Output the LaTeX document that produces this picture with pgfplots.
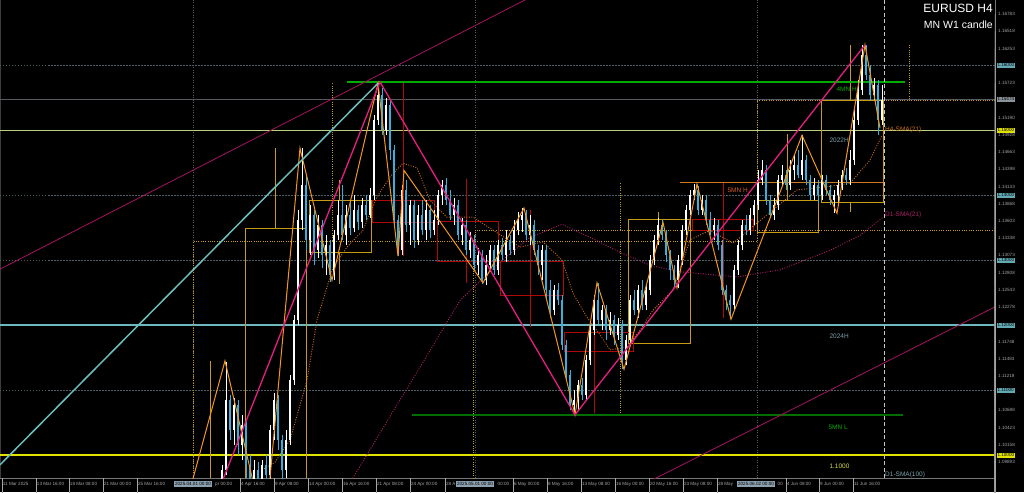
\documentclass[border=0pt]{standalone}
\usepackage{fontspec}
\setmainfont{Liberation Sans}
\usepackage{pgfplots}
\usepackage{pgfplotstable}
\pgfplotsset{compat=1.18}
\definecolor{axisgray}{RGB}{120,120,120}
\definecolor{tickgray}{RGB}{165,165,165}
\definecolor{gridc}{RGB}{75,95,100}
\definecolor{graylvl}{RGB}{85,88,92}
\definecolor{lvlf}{RGB}{185,210,130}
\definecolor{lvlt}{RGB}{110,185,190}
\definecolor{yel}{RGB}{225,225,0}
\definecolor{sepc}{RGB}{90,90,90}
\definecolor{wgold}{RGB}{200,155,20}
\definecolor{wred}{RGB}{175,10,10}
\definecolor{grn}{RGB}{0,170,0}
\definecolor{dgrn}{RGB}{0,110,0}
\definecolor{orz}{RGB}{245,150,30}
\definecolor{mnh}{RGB}{210,120,30}
\definecolor{pinkz}{RGB}{230,30,130}
\definecolor{magt}{RGB}{165,20,95}
\definecolor{cyl}{RGB}{110,190,190}
\definecolor{smao}{RGB}{200,110,20}
\definecolor{smam}{RGB}{170,30,100}
\definecolor{boxteal}{RGB}{100,170,180}
\definecolor{boxgray}{RGB}{140,148,155}
\definecolor{sepbox}{RGB}{140,160,175}
\definecolor{lblteal}{RGB}{120,160,170}

\pgfplotstableread{
x o h l c
222 1.0946 1.0985 1.0931 1.0977
226 1.0977 1.1143 1.0969 1.1085
230 1.1085 1.1092 1.1023 1.1038
234 1.1038 1.1088 1.1015 1.1077
238 1.1077 1.1085 1.1000 1.1015
242 1.1015 1.1062 1.0992 1.1046
246 1.1046 1.1054 1.0965 1.0985
250 1.0985 1.1000 1.0938 1.0962
254 1.0962 1.0992 1.0938 1.0977
258 1.0977 1.0989 1.0938 1.0954
262 1.0954 1.0992 1.0946 1.0985
266 1.0985 1.1000 1.0954 1.0969
270 1.0969 1.1046 1.0962 1.1038
274 1.1038 1.1095 1.1023 1.1085
278 1.1085 1.1092 1.1008 1.1023
282 1.1023 1.1031 1.0962 1.0977
286 1.0977 1.1038 1.0965 1.1023
290 1.1023 1.1123 1.1015 1.1115
294 1.1115 1.1215 1.1108 1.1208
298 1.1208 1.1377 1.1200 1.1362
302 1.1362 1.1472 1.1346 1.1415
306 1.1415 1.1431 1.1315 1.1331
310 1.1331 1.1385 1.1308 1.1369
314 1.1369 1.1377 1.1292 1.1315
318 1.1315 1.1369 1.1303 1.1354
322 1.1354 1.1362 1.1288 1.1308
326 1.1308 1.1338 1.1277 1.1323
330 1.1323 1.1331 1.1266 1.1277
334 1.1277 1.1346 1.1269 1.1338
338 1.1338 1.1392 1.1331 1.1369
342 1.1369 1.1415 1.1331 1.1338
346 1.1338 1.1385 1.1323 1.1369
350 1.1369 1.1392 1.1338 1.1349
354 1.1349 1.1400 1.1343 1.1377
358 1.1377 1.1385 1.1346 1.1358
362 1.1358 1.1395 1.1349 1.1385
366 1.1385 1.1400 1.1362 1.1369
370 1.1369 1.1411 1.1365 1.1400
374 1.1400 1.1523 1.1392 1.1515
378 1.1515 1.1572 1.1508 1.1554
382 1.1554 1.1565 1.1492 1.1500
386 1.1500 1.1549 1.1492 1.1538
390 1.1538 1.1546 1.1454 1.1469
394 1.1469 1.1477 1.1349 1.1362
398 1.1362 1.1369 1.1306 1.1315
402 1.1315 1.1415 1.1308 1.1408
406 1.1408 1.1423 1.1343 1.1354
410 1.1354 1.1392 1.1323 1.1385
414 1.1385 1.1392 1.1318 1.1331
418 1.1331 1.1385 1.1323 1.1369
422 1.1369 1.1392 1.1338 1.1346
426 1.1346 1.1392 1.1331 1.1377
430 1.1377 1.1385 1.1334 1.1346
434 1.1346 1.1377 1.1338 1.1362
438 1.1362 1.1408 1.1354 1.1400
442 1.1400 1.1423 1.1385 1.1415
446 1.1415 1.1426 1.1385 1.1392
450 1.1392 1.1408 1.1362 1.1369
454 1.1369 1.1395 1.1354 1.1385
458 1.1385 1.1392 1.1331 1.1338
462 1.1338 1.1365 1.1323 1.1354
466 1.1354 1.1362 1.1308 1.1315
470 1.1315 1.1343 1.1303 1.1331
474 1.1331 1.1338 1.1285 1.1292
478 1.1292 1.1318 1.1277 1.1308
482 1.1308 1.1315 1.1263 1.1269
486 1.1269 1.1308 1.1262 1.1292
490 1.1292 1.1323 1.1282 1.1315
494 1.1315 1.1323 1.1277 1.1285
498 1.1285 1.1331 1.1277 1.1323
502 1.1323 1.1334 1.1300 1.1308
506 1.1308 1.1346 1.1297 1.1331
510 1.1331 1.1338 1.1308 1.1315
514 1.1315 1.1362 1.1308 1.1346
518 1.1346 1.1374 1.1338 1.1362
522 1.1362 1.1380 1.1343 1.1369
526 1.1369 1.1377 1.1331 1.1338
530 1.1338 1.1369 1.1323 1.1354
534 1.1354 1.1362 1.1308 1.1315
538 1.1315 1.1323 1.1277 1.1292
542 1.1292 1.1323 1.1269 1.1315
546 1.1315 1.1323 1.1238 1.1254
550 1.1254 1.1269 1.1211 1.1223
554 1.1223 1.1262 1.1215 1.1254
558 1.1254 1.1265 1.1231 1.1238
562 1.1238 1.1246 1.1162 1.1169
566 1.1169 1.1177 1.1115 1.1123
570 1.1123 1.1131 1.1069 1.1077
574 1.1077 1.1100 1.1062 1.1085
578 1.1085 1.1115 1.1069 1.1108
582 1.1108 1.1118 1.1085 1.1092
586 1.1092 1.1154 1.1085 1.1146
590 1.1146 1.1200 1.1138 1.1192
594 1.1192 1.1246 1.1185 1.1238
598 1.1238 1.1265 1.1200 1.1208
602 1.1208 1.1231 1.1192 1.1223
606 1.1223 1.1231 1.1177 1.1192
610 1.1192 1.1220 1.1185 1.1208
614 1.1208 1.1215 1.1169 1.1185
618 1.1185 1.1211 1.1177 1.1200
622 1.1200 1.1208 1.1132 1.1146
626 1.1146 1.1185 1.1138 1.1177
630 1.1177 1.1246 1.1169 1.1238
634 1.1238 1.1254 1.1215 1.1223
638 1.1223 1.1262 1.1211 1.1254
642 1.1254 1.1269 1.1223 1.1231
646 1.1231 1.1262 1.1223 1.1254
650 1.1254 1.1308 1.1246 1.1300
654 1.1300 1.1338 1.1292 1.1331
658 1.1331 1.1365 1.1323 1.1354
662 1.1354 1.1362 1.1331 1.1338
666 1.1338 1.1346 1.1297 1.1308
670 1.1308 1.1315 1.1269 1.1285
674 1.1285 1.1292 1.1257 1.1269
678 1.1269 1.1308 1.1257 1.1300
682 1.1300 1.1354 1.1292 1.1346
686 1.1346 1.1385 1.1338 1.1377
690 1.1377 1.1408 1.1369 1.1400
694 1.1400 1.1417 1.1392 1.1408
698 1.1408 1.1414 1.1369 1.1377
702 1.1377 1.1400 1.1369 1.1392
706 1.1392 1.1400 1.1354 1.1362
710 1.1362 1.1374 1.1338 1.1346
714 1.1346 1.1365 1.1331 1.1354
718 1.1354 1.1362 1.1315 1.1323
722 1.1323 1.1331 1.1246 1.1254
726 1.1254 1.1262 1.1223 1.1238
730 1.1238 1.1246 1.1209 1.1231
734 1.1231 1.1292 1.1223 1.1285
738 1.1285 1.1331 1.1277 1.1323
742 1.1323 1.1362 1.1315 1.1354
746 1.1354 1.1369 1.1338 1.1346
750 1.1346 1.1380 1.1338 1.1369
754 1.1369 1.1392 1.1354 1.1385
758 1.1385 1.1438 1.1377 1.1423
762 1.1423 1.1454 1.1415 1.1438
766 1.1438 1.1446 1.1385 1.1392
770 1.1392 1.1400 1.1365 1.1369
774 1.1369 1.1395 1.1362 1.1385
778 1.1385 1.1431 1.1377 1.1423
782 1.1423 1.1446 1.1415 1.1431
786 1.1431 1.1438 1.1408 1.1415
790 1.1415 1.1454 1.1408 1.1438
794 1.1438 1.1462 1.1423 1.1446
798 1.1446 1.1469 1.1426 1.1431
802 1.1431 1.1492 1.1423 1.1454
806 1.1454 1.1462 1.1415 1.1423
810 1.1423 1.1431 1.1392 1.1400
814 1.1400 1.1426 1.1392 1.1415
818 1.1415 1.1423 1.1388 1.1400
822 1.1400 1.1431 1.1392 1.1423
826 1.1423 1.1431 1.1400 1.1408
830 1.1408 1.1415 1.1385 1.1392
834 1.1392 1.1408 1.1372 1.1400
838 1.1400 1.1423 1.1385 1.1415
842 1.1415 1.1438 1.1408 1.1431
846 1.1431 1.1442 1.1415 1.1423
850 1.1423 1.1469 1.1415 1.1454
854 1.1454 1.1531 1.1446 1.1515
858 1.1515 1.1577 1.1508 1.1562
862 1.1562 1.1631 1.1554 1.1615
866 1.1615 1.1631 1.1577 1.1585
870 1.1585 1.1600 1.1546 1.1554
874 1.1554 1.1580 1.1546 1.1569
878 1.1569 1.1577 1.1492 1.1515
882 1.1515 1.1569 1.1508 1.1546
}\candles

\newcommand{\ylab}[1]{\draw[tickgray, line width=0.5pt] (axis cs:995,#1) -- ++(2pt,0);
  \node[anchor=west, inner sep=0pt, text=tickgray, font=\fontsize{4.6}{5}\selectfont] at (axis cs:998,#1) {#1};}
\newcommand{\ybox}[3]{\node[anchor=west, inner xsep=0.8pt, inner ysep=0.9pt, fill=#2, text=black, font=\fontsize{4.6}{5}\selectfont] at (axis cs:996.5,#1) {#3};}
\newcommand{\xlab}[2]{\draw[tickgray, line width=0.5pt] (axis cs:#1,1.096462) -- ++(0,-2.5pt);
  \node[anchor=north west, inner sep=0pt, text=tickgray, font=\fontsize{4.6}{5}\selectfont] at (axis cs:#1,1.096462) [xshift=0.8pt, yshift=-4pt] {#2};}
\newcommand{\xfrag}[2]{\node[anchor=north west, inner sep=0pt, text=tickgray, font=\fontsize{4.6}{5}\selectfont] at (axis cs:#1,1.096462) [yshift=-4pt] {#2};}
\newcommand{\xbox}[2]{\node[anchor=north, inner xsep=1pt, inner ysep=1pt, fill=sepbox, text=black, font=\fontsize{4.6}{5}\selectfont] at (axis cs:#1,1.096462) [yshift=-3pt] {#2};}

\begin{document}
\begin{tikzpicture}
\fill[black] (0pt,-14pt) rectangle (1024pt,478pt);
\begin{axis}[
  at={(0pt,0pt)}, anchor=south west,
  scale only axis, width=995pt, height=478pt,
  xmin=0, xmax=995, ymin=1.096462, ymax=1.17,
  axis x line*=bottom, axis y line*=right,
  axis line style={draw=axisgray, line width=0.8pt},
  xtick=\empty, ytick=\empty,
  clip mode=individual,
  colormap={cndl}{rgb255=(56,176,222) rgb255=(255,255,255)},
  point meta min=0, point meta max=1,
]
% left border
\addplot[draw={rgb,255:red,60;green,60;blue,60}, line width=0.8pt] coordinates {(0.5,1.096462) (0.5,1.17)};
% grid levels
\addplot[gridc, line width=0.8pt, dash pattern=on 1.5pt off 1.5pt] coordinates {(0,1.16) (995,1.16)};
\addplot[gridc, line width=0.8pt, dash pattern=on 1.5pt off 1.5pt] coordinates {(0,1.14) (995,1.14)};
\addplot[gridc, line width=0.8pt, dash pattern=on 1.5pt off 1.5pt] coordinates {(0,1.13) (995,1.13)};
\addplot[gridc, line width=0.8pt, dash pattern=on 1.5pt off 1.5pt] coordinates {(0,1.11) (995,1.11)};
% period separators
\addplot[sepc, line width=0.8pt, dash pattern=on 1pt off 1.5pt] coordinates {(193,1.096462) (193,1.17)};
\addplot[sepc, line width=0.8pt, dash pattern=on 1pt off 1.5pt] coordinates {(475,1.096462) (475,1.17)};
\addplot[sepc, line width=0.8pt, dash pattern=on 1pt off 1.5pt] coordinates {(757,1.096462) (757,1.17)};
% price levels
\addplot[graylvl, line width=1pt] coordinates {(0,1.15474) (995,1.15474)};
\addplot[lvlf, line width=1.1pt] coordinates {(0,1.15) (995,1.15)};
\addplot[lvlt, line width=2pt] coordinates {(0,1.12) (995,1.12)};
\addplot[yel, line width=1.4pt] coordinates {(0,1.10) (995,1.10)};
% monthly candles (dotted)
\addplot[wgold, line width=0.9pt, dash pattern=on 1pt off 1.3pt] coordinates {(193,1.096462) (193,1.1328) (473,1.1328) (473,1.096462)};
\addplot[wgold, line width=0.9pt, dash pattern=on 1pt off 1.3pt] coordinates {(332,1.1572) (332,1.1328)};
\addplot[wgold, line width=0.9pt, dash pattern=on 1pt off 1.3pt] coordinates {(475,1.1328) (475,1.1346) (757,1.1346) (757,1.1328) (475,1.1328)};
\addplot[wgold, line width=0.9pt, dash pattern=on 1pt off 1.3pt] coordinates {(620,1.1418) (620,1.1346)};
\addplot[wgold, line width=0.9pt, dash pattern=on 1pt off 1.3pt] coordinates {(620,1.1328) (620,1.1065)};
\addplot[wgold, line width=0.9pt, dash pattern=on 1pt off 1.3pt] coordinates {(995,1.1546) (757,1.1546) (757,1.1346) (995,1.1346)};
\addplot[wgold, line width=0.9pt, dash pattern=on 1pt off 1.3pt] coordinates {(909,1.1631) (909,1.1546)};
% weekly candles
\addplot[wgold, line width=0.9pt] coordinates {(210,1.1145) (210,1.096462)};
\addplot[wgold, line width=0.9pt] coordinates {(245,1.096462) (245,1.1349) (306,1.1349) (306,1.096462)};
\addplot[wgold, line width=0.9pt] coordinates {(275,1.1472) (275,1.1349)};
\addplot[wgold, line width=0.9pt] coordinates {(309,1.1311) (309,1.1392) (371,1.1392) (371,1.1311) (309,1.1311)};
\addplot[wgold, line width=0.9pt] coordinates {(339,1.1423) (339,1.1392)};
\addplot[wgold, line width=0.9pt] coordinates {(339,1.1311) (339,1.1263)};
\addplot[wgold, line width=0.9pt] coordinates {(628,1.1172) (628,1.1363) (690,1.1363) (690,1.1172) (628,1.1172)};
\addplot[wgold, line width=0.9pt] coordinates {(658,1.1374) (658,1.1363)};
\addplot[wgold, line width=0.9pt] coordinates {(757,1.1343) (757,1.1392) (818,1.1392) (818,1.1343) (757,1.1343)};
\addplot[wgold, line width=0.9pt] coordinates {(787,1.1494) (787,1.1392)};
\addplot[wgold, line width=0.9pt] coordinates {(821,1.1389) (821,1.1546) (883,1.1546) (883,1.1389) (821,1.1389)};
\addplot[wgold, line width=0.9pt] coordinates {(850,1.1631) (850,1.1546)};
\addplot[wgold, line width=0.9pt] coordinates {(850,1.1389) (850,1.1374)};
\addplot[wred, line width=0.9pt] coordinates {(372,1.1358) (372,1.1391) (434,1.1391) (434,1.1358) (372,1.1358)};
\addplot[wred, line width=0.9pt] coordinates {(403,1.1572) (403,1.1306)};
\addplot[wred, line width=0.9pt] coordinates {(437,1.1298) (437,1.1360) (498,1.1360) (498,1.1298) (437,1.1298)};
\addplot[wred, line width=0.9pt] coordinates {(466,1.1425) (466,1.1265)};
\addplot[wred, line width=0.9pt] coordinates {(500,1.1246) (500,1.1298) (563,1.1298) (563,1.1246) (500,1.1246)};
\addplot[wred, line width=0.9pt] coordinates {(530,1.1377) (530,1.1197)};
\addplot[wred, line width=0.9pt] coordinates {(564,1.1160) (564,1.1188) (633,1.1188) (633,1.1160) (564,1.1160)};
\addplot[wred, line width=0.9pt] coordinates {(594,1.1188) (594,1.1065)};
\addplot[wred, line width=0.9pt] coordinates {(692,1.1346) (692,1.1362) (753,1.1362) (753,1.1346) (692,1.1346)};
\addplot[wred, line width=0.9pt] coordinates {(723,1.1418) (723,1.1211)};
% monthly high/low levels
\addplot[grn, line width=1.1pt] coordinates {(347,1.1574) (905,1.1574)};
\addplot[dgrn, line width=1.8pt] coordinates {(412,1.1062) (903,1.1062)};
\addplot[mnh, line width=0.9pt] coordinates {(680,1.1420) (884,1.1420)};
% SMAs
\addplot[smam, line width=0.9pt, dash pattern=on 1pt off 1.5pt] coordinates {(340,1.0931) (353,1.0965) (380,1.1034) (400,1.1085) (420,1.1135) (460,1.1238) (500,1.1297) (530,1.1335) (562,1.1355) (590,1.1335) (620,1.1312) (650,1.1292) (680,1.1282) (737,1.1274) (780,1.1285) (830,1.1315) (860,1.1338) (883,1.1366)};
\addplot[smao, line width=0.9pt, dash pattern=on 1pt off 1.5pt] coordinates {(262,1.0977) (275,1.0989) (290,1.1023) (307,1.1115) (317,1.1208) (333,1.1289) (347,1.1320) (363,1.1346) (377,1.1397) (390,1.1428) (403,1.1449) (417,1.1442) (430,1.1392) (447,1.1366) (473,1.1366) (497,1.1342) (520,1.1320) (543,1.1328) (562,1.1300) (573,1.1249) (587,1.1212) (600,1.1185) (610,1.1162) (627,1.1166) (640,1.1192) (653,1.1223) (673,1.1254) (690,1.1331) (710,1.1346) (733,1.1326) (757,1.1357) (777,1.1382) (797,1.1408) (823,1.1412) (850,1.1418) (870,1.1454) (882,1.1492)};
% candles: wicks and bodies
\addplot[quiver={u=0, v=\thisrow{h}-\thisrow{l}, colored, every arrow/.append style={line width=0.7pt}}, point meta={\thisrow{c}>\thisrow{o}}] table[x=x, y=l] {\candles};
\addplot[quiver={u=0, v=\thisrow{c}-\thisrow{o}, colored, every arrow/.append style={line width=2.4pt}}, point meta={\thisrow{c}>\thisrow{o}}] table[x=x, y=o] {\candles};
% zigzags and trendlines
\addplot[orz, line width=1pt] coordinates {(160,1.0777) (225,1.1145) (265,1.0880) (300,1.1472) (332,1.1269) (378,1.1572) (398,1.1306) (404,1.1438) (483,1.1265) (524,1.1380) (575,1.1062) (597,1.1265) (624,1.1132) (663,1.1358) (677,1.1257) (697,1.1417) (731,1.1209) (802,1.1492) (837,1.1372) (865,1.1631) (880,1.1503)};
\addplot[pinkz, line width=1.3pt] coordinates {(199,1.0869) (380,1.1574) (575,1.1062) (865,1.1631)};
\addplot[cyl, line width=1.5pt] coordinates {(0,1.0985) (378,1.1572)};
\addplot[magt, line width=0.8pt] coordinates {(0,1.1286) (540,1.1712)};
\addplot[magt, line width=0.8pt] coordinates {(650,1.0960) (995,1.1228)};
% current time line
\addplot[draw={rgb,255:red,200;green,200;blue,200}, line width=0.8pt, dash pattern=on 4pt off 2.5pt] coordinates {(884,1.096462) (884,1.17)};
% labels inside chart
\node[anchor=west, text=grn, font=\fontsize{6.5}{7}\selectfont] at (axis cs:833,1.1563) {4MN H};
\node[anchor=west, text=lblteal, font=\fontsize{6.5}{7}\selectfont] at (axis cs:826,1.1485) {2022H};
\node[anchor=west, text=smao, font=\fontsize{6.5}{7}\selectfont, inner sep=1pt] at (axis cs:884,1.1500) {H4-SMA(21)};
\node[anchor=west, text=smam, font=\fontsize{6.5}{7}\selectfont, inner sep=1pt] at (axis cs:884,1.1369) {D1-SMA(21)};
\node[anchor=west, text={rgb,255:red,215;green,95;blue,40}, font=\fontsize{6.5}{7}\selectfont] at (axis cs:724,1.1408) {5MN H};
\node[anchor=west, text=lblteal, font=\fontsize{6.5}{7}\selectfont] at (axis cs:826,1.1183) {2024H};
\node[anchor=west, text=grn, font=\fontsize{6.5}{7}\selectfont] at (axis cs:825,1.1042) {5MN L};
\node[anchor=west, text={rgb,255:red,220;green,220;blue,60}, font=\fontsize{6.5}{7}\selectfont] at (axis cs:826,1.0983) {1.1000};
\node[anchor=west, text=lblteal, font=\fontsize{6.5}{7}\selectfont, inner sep=1pt] at (axis cs:884,1.0970) {D1-SMA(100)};
\node[anchor=north east, text=white, font=\fontsize{12}{13}\selectfont, inner sep=0pt] at (axis cs:993,1.1694) {EURUSD H4};
\node[anchor=north east, text=white, font=\fontsize{10.5}{12}\selectfont, inner sep=0pt] at (axis cs:993,1.1668) {MN W1 candle};
% y labels
\ylab{1.16783}\ylab{1.16518}\ylab{1.16253}\ylab{1.15723}\ylab{1.15190}\ylab{1.14928}
\ylab{1.14663}\ylab{1.14398}\ylab{1.14133}\ylab{1.13868}\ylab{1.13603}\ylab{1.13338}
\ylab{1.13073}\ylab{1.12808}\ylab{1.12543}\ylab{1.12278}\ylab{1.11748}\ylab{1.11483}
\ylab{1.11218}\ylab{1.10688}\ylab{1.10423}\ylab{1.10158}\ylab{1.09893}
\ybox{1.16}{boxteal}{1.16000}
\ybox{1.15474}{boxgray}{1.15474}
\ybox{1.15}{yel}{1.15000}
\ybox{1.14}{boxteal}{1.14000}
\ybox{1.13}{boxteal}{1.13000}
\ybox{1.12}{boxteal}{1.12000}
\ybox{1.11}{boxteal}{1.11000}
\ybox{1.10}{yel}{1.10000}
% x labels
\xlab{2}{11 Mar 2025}\xlab{36}{13 Mar 16:00}\xlab{69}{18 Mar 08:00}\xlab{103}{21 Mar 00:00}
\xlab{137}{25 Mar 16:00}\xlab{240}{4 Apr 16:00}
\xlab{274}{9 Apr 08:00}\xlab{308}{14 Apr 00:00}\xlab{342}{16 Apr 16:00}\xlab{376}{21 Apr 08:00}
\xlab{410}{24 Apr 00:00}\xlab{445}{28 A}\xlab{513}{6 May 00:00}
\xlab{547}{8 May 16:00}\xlab{581}{13 May 08:00}\xlab{615}{16 May 00:00}\xlab{649}{20 May 16:00}
\xlab{683}{23 May 08:00}\xlab{717}{28 May}\xlab{786}{4 Jun 08:00}
\xlab{819}{9 Jun 00:00}\xlab{853}{11 Jun 16:00}
\xfrag{215}{pr 00:00}
\xfrag{497.5}{00:00}
\xfrag{777.5}{00}
\xbox{193}{2025.04.01 00:00}
\xbox{475}{2025.05.01 00:00}
\xbox{756}{2025.06.02 00:00}
\end{axis}
\pgfresetboundingbox
\path[use as bounding box] (0pt,-14pt) rectangle (1024pt,478pt);
\end{tikzpicture}
\end{document}
